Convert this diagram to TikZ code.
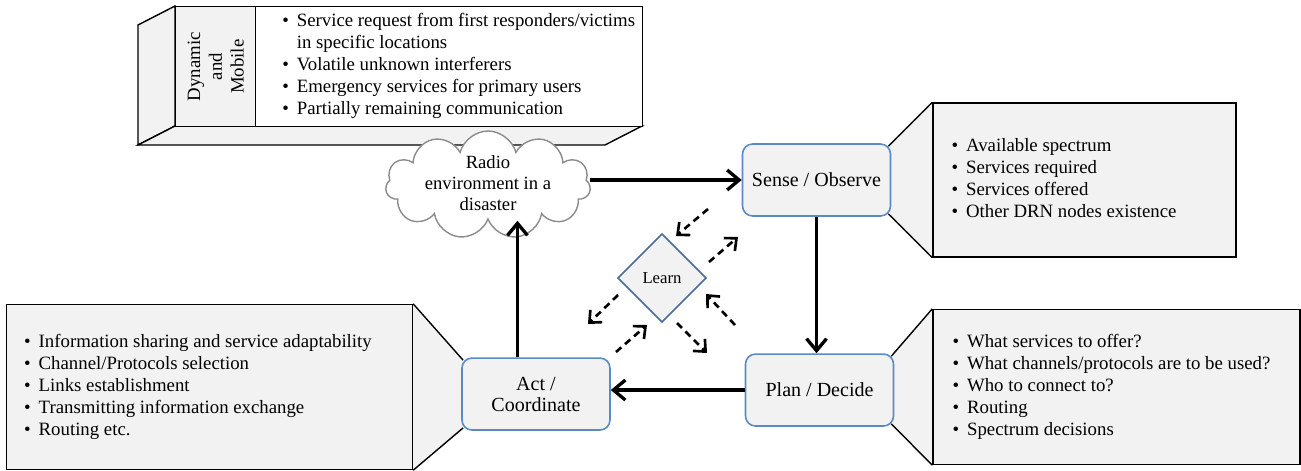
\documentclass[tikz,border=0pt]{standalone}
\usepackage{fontspec}
\setmainfont{Liberation Serif}
\usetikzlibrary{positioning,shapes.geometric,shapes.symbols,arrows.meta}

\definecolor{boxgray}{HTML}{F2F2F2}
\definecolor{stageblue}{HTML}{5A8AC6}
\definecolor{learnblue}{HTML}{4A6F97}
\definecolor{cloudline}{HTML}{8C8C8C}

\pgfdeclarelayer{back}
\pgfsetlayers{back,main}

\tikzset{
  stage/.style={rectangle, rounded corners=0.2cm, draw=stageblue, fill=boxgray, line width=0.9pt,
    minimum width=2.96cm, minimum height=1.44cm, align=center, font=\fontsize{11.4}{12}\selectfont},
  learnbox/.style={diamond, draw=learnblue, fill=boxgray, line width=0.9pt,
    minimum width=1.77cm, minimum height=1.77cm, inner sep=0pt, font=\fontsize{9.5}{11}\selectfont},
  envcloud/.style={cloud, cloud puffs=11, cloud ignores aspect, draw=cloudline, fill=white, line width=0.8pt,
    minimum width=4.1cm, minimum height=2.16cm, inner sep=0pt},
  cloudtext/.style={align=center, inner sep=0pt, font=\fontsize{10.6}{11.9}\selectfont},
  note/.style={rectangle, draw, fill=boxgray, line width=0.8pt},
  wedge/.style={fill=boxgray},
  notetext/.style={align=left, inner sep=0pt, anchor=west, font=\fontsize{10.7}{12.5}\selectfont},
  flow/.style={line width=1.9pt, -{Straight Barb[length=2.4mm, width=4mm]}},
  learnflow/.style={line width=1.5pt, dash pattern=on 4pt off 2.8pt, -{Straight Barb[length=1.9mm, width=3.4mm]}}
}

\newcommand{\itm}{\textbullet}

\begin{document}
\begin{tikzpicture}[x=0.02cm, y=-0.02cm]

  \useasboundingbox (0,0) rectangle (1301,470);

  \filldraw [fill=boxgray, line width=0.8pt] (175,6) -- (138,25) -- (138,145) -- (175,126) -- cycle;
  \filldraw [fill=boxgray, line width=0.8pt] (175,126) -- (138,145) -- (605,145) -- (642,126) -- cycle;
  \node (envbox) [note, fill=white, minimum width=9.34cm, minimum height=2.4cm, anchor=north west] at (175,6) {};
  \node (dyn) [note, minimum width=1.6cm, minimum height=2.4cm, anchor=north west] at (175,6) {};
  \node (dyntext) [rotate=90, align=center, font=\fontsize{10.7}{12.4}\selectfont] at (dyn.center) {Dynamic\\and\\Mobile};
  \node (envlist) [notetext] at (282,66) {\begin{tabular}{@{}l@{\hspace{4.5pt}}l@{}}
    \itm & Service request from first responders/victims\\
         & in specific locations\\
    \itm & Volatile unknown interferers\\
    \itm & Emergency services for primary users\\
    \itm & Partially remaining communication
  \end{tabular}};

  \node (cloud) [envcloud] at (488,185) {};
  \node (cloudlabel) [cloudtext] at ([yshift=0.04cm]cloud.center) {Radio\\environment in a\\disaster};

  \node (sense) [stage] at (816.5,180) {Sense / Observe};
  \node (plan) [stage, below=2.73cm of sense, xshift=0.06cm] {Plan / Decide};
  \node (act) [stage, left=2.68cm of plan, yshift=-0.08cm] {Act /\\Coordinate};
  \node (learn) [learnbox] at (662,278) {Learn};

  \node (sensenote) [note, right=0.82cm of sense, minimum width=6.06cm, minimum height=3.08cm] {};
  \node (plannote) [note, right=0.76cm of plan, yshift=0.06cm, minimum width=7.34cm, minimum height=3.1cm] {};
  \node (actnote) [note, left=0.96cm of act, yshift=0.14cm, minimum width=8.12cm, minimum height=3.3cm] {};

  \node (senselist) [notetext] at ([xshift=0.38cm]sensenote.west) {\begin{tabular}{@{}l@{\hspace{4.5pt}}l@{}}
    \itm & Available spectrum\\
    \itm & Services required\\
    \itm & Services offered\\
    \itm & Other DRN nodes existence
  \end{tabular}};
  \node (planlist) [notetext] at ([xshift=0.4cm]plannote.west) {\begin{tabular}{@{}l@{\hspace{4.5pt}}l@{}}
    \itm & What services to offer?\\
    \itm & What channels/protocols are to be used?\\
    \itm & Who to connect to?\\
    \itm & Routing\\
    \itm & Spectrum decisions
  \end{tabular}};
  \node (actlist) [notetext] at ([xshift=0.36cm]actnote.west) {\begin{tabular}{@{}l@{\hspace{4.5pt}}l@{}}
    \itm & Information sharing and service adaptability\\
    \itm & Channel/Protocols selection\\
    \itm & Links establishment\\
    \itm & Transmitting information exchange\\
    \itm & Routing etc.
  \end{tabular}};

  \begin{pgfonlayer}{back}
    \fill [wedge] ([shift={(-3,3)}]sense.north east) -- (sensenote.north west) -- (sensenote.south west) -- ([shift={(-3,-3)}]sense.south east) -- cycle;
    \fill [wedge] ([shift={(-3,3)}]plan.north east) -- (plannote.north west) -- (plannote.south west) -- ([shift={(-3,-3)}]plan.south east) -- cycle;
    \fill [wedge] ([shift={(2,3)}]act.north west) -- (actnote.north east) -- (actnote.south east) -- ([shift={(2,-3)}]act.south west) -- cycle;
    \draw [line width=0.8pt] ([shift={(-3,3)}]sense.north east) -- (sensenote.north west);
    \draw [line width=0.8pt] ([shift={(-3,-3)}]sense.south east) -- (sensenote.south west);
    \draw [line width=0.8pt] ([shift={(-3,3)}]plan.north east) -- (plannote.north west);
    \draw [line width=0.8pt] ([shift={(-3,-3)}]plan.south east) -- (plannote.south west);
    \draw [line width=0.8pt] ([shift={(2,3)}]act.north west) -- (actnote.north east);
    \draw [line width=0.8pt] ([shift={(2,-3)}]act.south west) -- (actnote.south east);
  \end{pgfonlayer}

  \draw [flow] (cloud.east |- sense.west) -- (sense.west);
  \draw [flow] (sense.south) -- (plan.north -| sense.south);
  \draw [flow] (plan.west) -- (plan.west -| act.east);
  \draw [flow] ([xshift=-0.37cm]act.north) -- ([xshift=-0.37cm]act.north |- cloud.south);

  \foreach \sx/\sy/\ex/\ey in {46/-69/14/-42, 47/-16/76/-41, -44/17/-74/46, -46/74/-15/47, 15/45/45/75, 73/47/44/16}
    \draw [learnflow] ([shift={(\sx,\sy)}]learn.center) -- ([shift={(\ex,\ey)}]learn.center);

\end{tikzpicture}
\end{document}
